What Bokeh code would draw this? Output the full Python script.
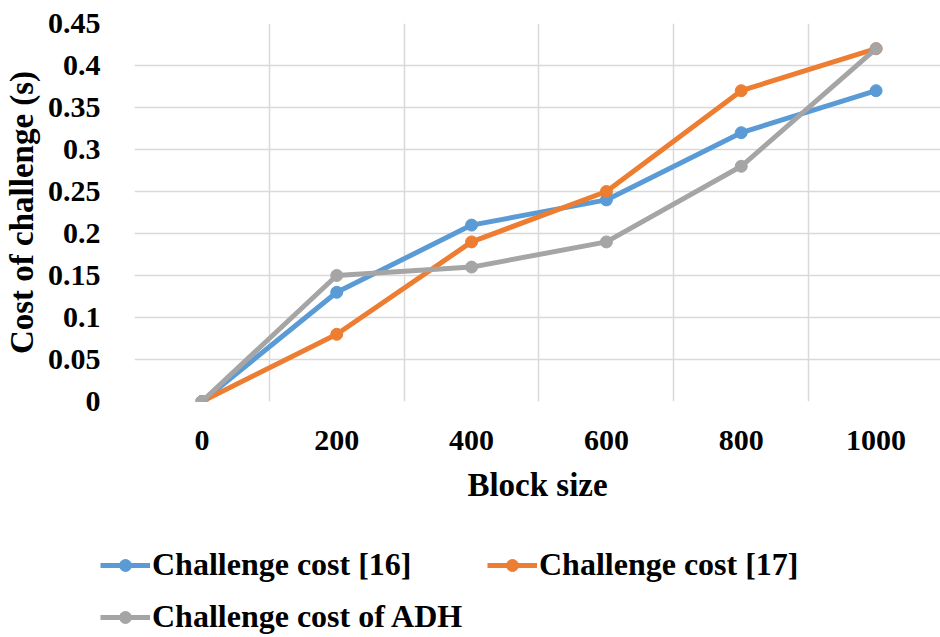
from bokeh.plotting import figure
from bokeh.layouts import column
from bokeh.models import Legend, LegendItem, FixedTicker, Grid, Range1d, ColumnDataSource
from bokeh.embed import file_html
from bokeh.resources import INLINE

block_sizes = ["0", "200", "400", "600", "800", "1000"]
cost_16 = [0, 0.13, 0.21, 0.24, 0.32, 0.37]
cost_17 = [0, 0.08, 0.19, 0.25, 0.37, 0.42]
cost_adh = [0, 0.15, 0.16, 0.19, 0.28, 0.42]
y_ticks = [0, 0.05, 0.1, 0.15, 0.2, 0.25, 0.3, 0.35, 0.4, 0.45]
y_labels = ["0", "0.05", "0.1", "0.15", "0.2", "0.25", "0.3", "0.35", "0.4", "0.45"]
series_names = ["Challenge cost [16]", "Challenge cost [17]", "Challenge cost of ADH"]
colors = ["#5B9BD5", "#ED7D31", "#A5A5A5"]

FONT = "Liberation Serif"
FS = "30px"

xs = list(range(len(block_sizes)))
series = [cost_16, cost_17, cost_adh]

p = figure(width=940, height=520, output_backend="svg", toolbar_location=None,
           min_border_left=133, min_border_right=0, min_border_top=23, min_border_bottom=119,
           x_range=Range1d(-0.5, -0.5 + 807 / 135), y_range=Range1d(0, 0.45))
p.outline_line_color = None
p.background_fill_color = "white"
p.frame_align = False

# axes
p.xaxis.ticker = FixedTicker(ticks=xs)
p.xaxis.major_label_overrides = {i: s for i, s in enumerate(block_sizes)}
p.yaxis.ticker = FixedTicker(ticks=y_ticks)
p.yaxis.major_label_overrides = {t: l for t, l in zip(y_ticks, y_labels)}
for ax in (p.xaxis, p.yaxis):
    ax.major_tick_line_color = None
    ax.minor_tick_line_color = None
    ax.axis_line_color = None
    ax.major_label_text_font = FONT
    ax.major_label_text_font_style = "bold"
    ax.major_label_text_font_size = FS
    ax.major_label_text_color = "black"
    ax.axis_label_text_font = FONT
    ax.axis_label_text_font_style = "bold"
    ax.axis_label_text_font_size = "33px"
    ax.axis_label_text_color = "black"
p.xaxis.axis_label = "Block size"
p.yaxis.axis_label = "Cost of challenge (s)"
p.yaxis.major_label_standoff = 28
p.yaxis.axis_label_standoff = 5
p.xaxis.major_label_standoff = 23
p.xaxis.axis_label_standoff = 14

# grids
p.xgrid.visible = False
p.ygrid.grid_line_color = "#D9D9D9"
p.ygrid.grid_line_width = 1.5
vgrid = Grid(dimension=0, ticker=FixedTicker(ticks=[x - 0.5 for x in xs]),
             grid_line_color="#D9D9D9", grid_line_width=1.5)
p.add_layout(vgrid)

for name, vals, c in zip(series_names, series, colors):
    src = ColumnDataSource(dict(x=xs, y=vals))
    p.line("x", "y", source=src, line_color=c, line_width=5)
    p.scatter("x", "y", source=src, size=12, fill_color=c, line_color=c)

# legend figure (same series, drawn outside its visible range)
lf = figure(width=940, height=117, output_backend="svg", toolbar_location=None,
            x_axis_location=None, y_axis_location=None,
            min_border_left=0, min_border_right=0, min_border_top=0, min_border_bottom=0,
            x_range=Range1d(100, 101), y_range=Range1d(100, 101))
lf.outline_line_color = None
lf.grid.visible = False
lf.frame_align = False
items = []
for name, vals, c in zip(series_names, series, colors):
    src = ColumnDataSource(dict(x=xs, y=vals))
    l = lf.line("x", "y", source=src, line_color=c, line_width=5)
    s = lf.scatter("x", "y", source=src, size=9, fill_color=c, line_color=c)
    items.append(LegendItem(label=name, renderers=[l, s]))

positions = [(100, 54), (487, 54), (100, 2)]
for it, loc in zip(items, positions):
    lg = Legend(items=[it], location=loc,
                glyph_width=50, glyph_height=30, label_height=30, label_standoff=2,
                padding=0, margin=0, border_line_color=None, background_fill_alpha=0,
                label_text_font=FONT, label_text_font_style="bold", label_text_font_size="32px",
                label_text_color="black")
    lf.add_layout(lg, "center")

layout = column(p, lf, spacing=0)
open("out.html", "w").write(file_html(layout, INLINE))
